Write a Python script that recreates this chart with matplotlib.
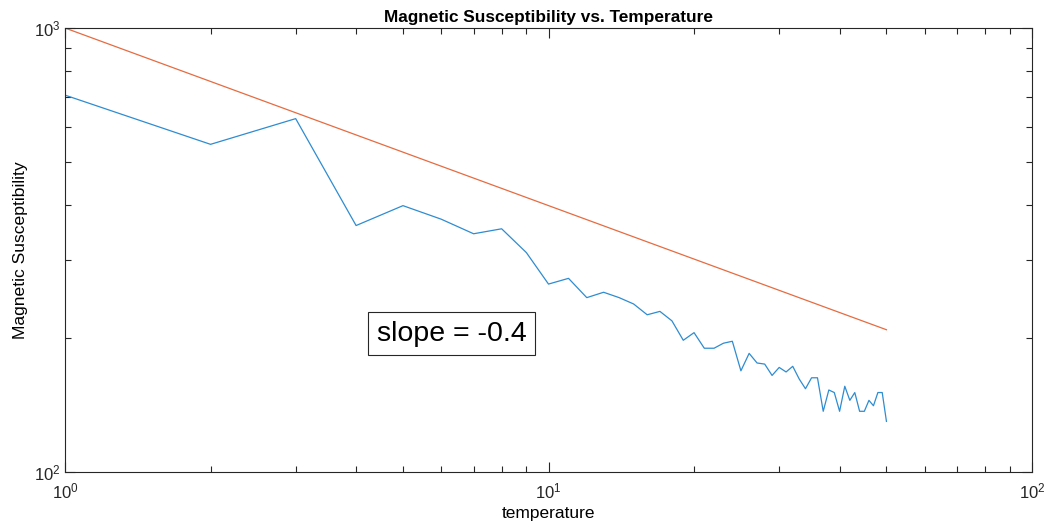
import matplotlib
matplotlib.use("Agg")
import matplotlib.pyplot as plt
import numpy as np
from matplotlib.ticker import LogLocator, NullFormatter

plt.rcParams['font.family'] = ['Liberation Sans', 'DejaVu Sans']

temperature = list(range(1, 51))
susceptibility = [706, 547, 625, 359, 398, 371, 344, 353, 312, 265,
                  273, 247, 254, 247, 239, 226, 230, 219, 198, 206,
                  190, 190, 195, 197, 169, 185, 176, 175, 165, 172,
                  168, 173, 162, 154, 163, 163, 137, 153, 151, 137,
                  156, 145, 151, 137, 137, 145, 141, 151, 151, 130]
fit_amplitude = 1000
fit_slope = -0.4
fit_x = [1, 50]
fit_y = [fit_amplitude * x ** fit_slope for x in fit_x]

fig = plt.figure(figsize=(10.46, 5.27), dpi=100)
ax = fig.add_axes([65/1046, 55/527, 967/1046, 444/527])
ax.loglog(temperature, susceptibility, color=(0.18, 0.55, 0.82), lw=0.9)
ax.loglog(fit_x, fit_y, color=(0.9, 0.42, 0.25), lw=0.9)
ax.set_xlim(1, 100)
ax.set_ylim(100, 1000)

axc = (0.15, 0.15, 0.15)
for s in ax.spines.values():
    s.set_color(axc)
    s.set_linewidth(0.8)
ax.tick_params(which='both', direction='in', top=True, right=True, colors=axc,
               labelsize=12, width=0.8)
ax.tick_params(axis='x', which='major', pad=7)
ax.tick_params(which='major', length=7)
ax.tick_params(which='minor', length=4)
ax.xaxis.set_minor_locator(LogLocator(base=10, subs=np.arange(2, 10)))
ax.yaxis.set_minor_locator(LogLocator(base=10, subs=np.arange(2, 10)))
ax.xaxis.set_minor_formatter(NullFormatter())
ax.yaxis.set_minor_formatter(NullFormatter())

ax.set_title('Magnetic Susceptibility vs. Temperature', fontsize=12.4, fontweight='bold', pad=4)
ax.set_xlabel('temperature', fontsize=12.5, labelpad=3)
ax.set_ylabel('Magnetic Susceptibility', fontsize=12.6, labelpad=4)

ax.text(6.3, 205, 'slope = -0.4', fontsize=20.5, ha='center', va='center',
        bbox=dict(boxstyle='square,pad=0.3', fc='white', ec=axc, lw=0.8))

fig.savefig('out.png', dpi=100)
